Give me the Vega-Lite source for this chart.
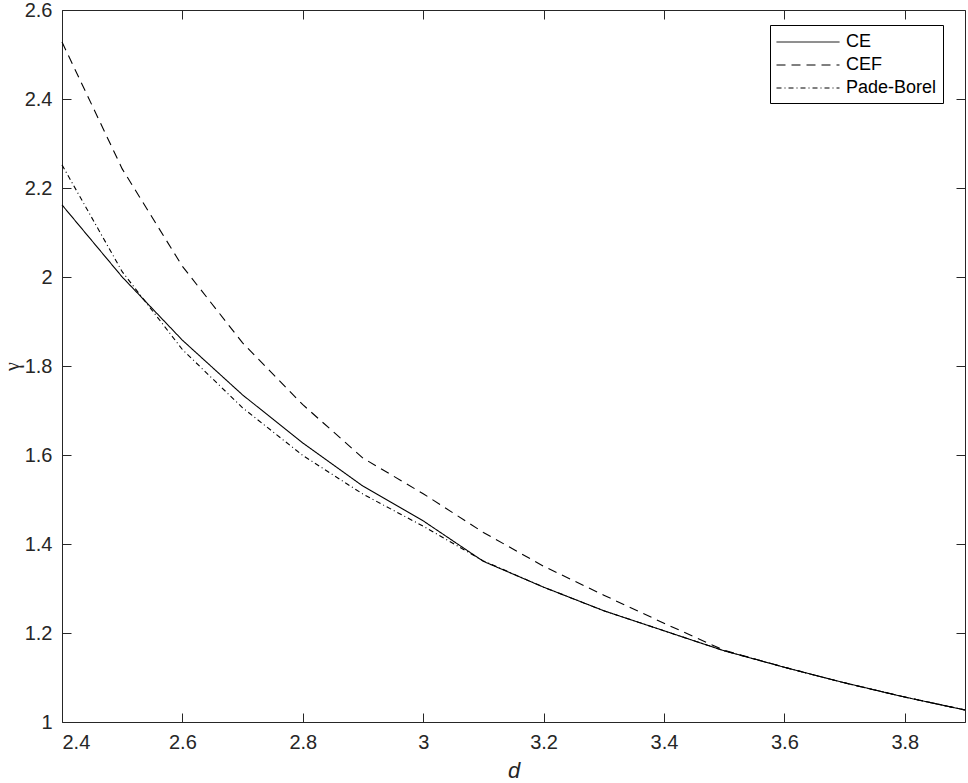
{
  "$schema": "https://vega.github.io/schema/vega-lite/v6.json",
  "autosize": "none",
  "width": 903,
  "height": 712,
  "padding": {"left": 62, "top": 10, "right": 3, "bottom": 61},
  "background": "white",
  "config": {
    "view": {"stroke": "#262626", "strokeWidth": 1},
    "font": "Liberation Sans",
    "axis": {
      "grid": false,
      "domain": false,
      "tickColor": "#262626",
      "tickSize": -9,
      "tickWidth": 1,
      "labelColor": "#262626",
      "labelFont": "Liberation Sans",
      "labelFontSize": 20,
      "titleColor": "#262626",
      "titleFont": "Liberation Sans",
      "titleFontWeight": "normal"
    }
  },
  "data": {
    "values": [
      {"d": 2.4, "gamma": 2.162, "method": "CE"},
      {"d": 2.5, "gamma": 2.0, "method": "CE"},
      {"d": 2.6, "gamma": 1.858, "method": "CE"},
      {"d": 2.7, "gamma": 1.735, "method": "CE"},
      {"d": 2.8, "gamma": 1.627, "method": "CE"},
      {"d": 2.9, "gamma": 1.53, "method": "CE"},
      {"d": 3.0, "gamma": 1.452, "method": "CE"},
      {"d": 3.1, "gamma": 1.361, "method": "CE"},
      {"d": 3.2, "gamma": 1.303, "method": "CE"},
      {"d": 3.3, "gamma": 1.25, "method": "CE"},
      {"d": 3.4, "gamma": 1.205, "method": "CE"},
      {"d": 3.5, "gamma": 1.16, "method": "CE"},
      {"d": 3.6, "gamma": 1.123, "method": "CE"},
      {"d": 3.7, "gamma": 1.088, "method": "CE"},
      {"d": 3.8, "gamma": 1.056, "method": "CE"},
      {"d": 3.9, "gamma": 1.027, "method": "CE"},
      {"d": 2.4, "gamma": 2.528, "method": "CEF"},
      {"d": 2.5, "gamma": 2.243, "method": "CEF"},
      {"d": 2.6, "gamma": 2.024, "method": "CEF"},
      {"d": 2.7, "gamma": 1.852, "method": "CEF"},
      {"d": 2.8, "gamma": 1.713, "method": "CEF"},
      {"d": 2.9, "gamma": 1.593, "method": "CEF"},
      {"d": 3.0, "gamma": 1.513, "method": "CEF"},
      {"d": 3.1, "gamma": 1.426, "method": "CEF"},
      {"d": 3.2, "gamma": 1.35, "method": "CEF"},
      {"d": 3.3, "gamma": 1.285, "method": "CEF"},
      {"d": 3.4, "gamma": 1.222, "method": "CEF"},
      {"d": 3.5, "gamma": 1.161, "method": "CEF"},
      {"d": 3.6, "gamma": 1.123, "method": "CEF"},
      {"d": 3.7, "gamma": 1.088, "method": "CEF"},
      {"d": 3.8, "gamma": 1.056, "method": "CEF"},
      {"d": 3.9, "gamma": 1.027, "method": "CEF"},
      {"d": 2.4, "gamma": 2.252, "method": "Pade-Borel"},
      {"d": 2.5, "gamma": 2.012, "method": "Pade-Borel"},
      {"d": 2.6, "gamma": 1.837, "method": "Pade-Borel"},
      {"d": 2.7, "gamma": 1.706, "method": "Pade-Borel"},
      {"d": 2.8, "gamma": 1.599, "method": "Pade-Borel"},
      {"d": 2.9, "gamma": 1.512, "method": "Pade-Borel"},
      {"d": 3.0, "gamma": 1.44, "method": "Pade-Borel"},
      {"d": 3.1, "gamma": 1.362, "method": "Pade-Borel"},
      {"d": 3.2, "gamma": 1.303, "method": "Pade-Borel"},
      {"d": 3.3, "gamma": 1.25, "method": "Pade-Borel"},
      {"d": 3.4, "gamma": 1.205, "method": "Pade-Borel"},
      {"d": 3.5, "gamma": 1.16, "method": "Pade-Borel"},
      {"d": 3.6, "gamma": 1.123, "method": "Pade-Borel"},
      {"d": 3.7, "gamma": 1.088, "method": "Pade-Borel"},
      {"d": 3.8, "gamma": 1.056, "method": "Pade-Borel"},
      {"d": 3.9, "gamma": 1.027, "method": "Pade-Borel"}
    ]
  },
  "layer": [
    {
      "mark": {"type": "line", "color": "black", "strokeWidth": 1.1},
      "encoding": {
        "x": {
          "field": "d", "type": "quantitative",
          "scale": {"domain": [2.4, 3.9], "nice": false, "zero": false},
          "axis": {
            "orient": "bottom",
            "values": [2.4, 2.6, 2.8, 3.0, 3.2, 3.4, 3.6, 3.8],
            "format": "~g",
            "labelPadding": 19,
            "title": "d",
            "titleFontStyle": "italic",
            "titleFontSize": 22,
            "titlePadding": 8
          }
        },
        "y": {
          "field": "gamma", "type": "quantitative",
          "scale": {"domain": [1, 2.6], "nice": false, "zero": false},
          "axis": {
            "orient": "left",
            "values": [1, 1.2, 1.4, 1.6, 1.8, 2, 2.2, 2.4, 2.6],
            "format": "~g",
            "labelPadding": 19,
            "title": "γ",
            "titleFont": "Liberation Serif",
            "titleFontSize": 20,
            "titlePadding": 2
          }
        },
        "strokeDash": {
          "field": "method", "type": "nominal",
          "scale": {"domain": ["CE", "CEF", "Pade-Borel"], "range": [[1, 0], [9, 6], [5, 3, 1, 3]]},
          "legend": {
            "title": null,
            "orient": "none",
            "legendX": 708,
            "legendY": 15,
            "symbolType": "M-1,0H5",
            "symbolSize": 441,
            "symbolStrokeColor": "black",
            "symbolStrokeWidth": 1,
            "labelOffset": 48,
            "labelFont": "Liberation Sans",
            "labelFontSize": 18,
            "labelColor": "black",
            "rowPadding": 3,
            "padding": 6,
            "strokeColor": "black",
            "fillColor": "white"
          }
        }
      }
    },
    {
      "mark": {"type": "line", "opacity": 0},
      "encoding": {
        "x": {
          "field": "d", "type": "quantitative",
          "axis": {"orient": "top", "values": [2.4, 2.6, 2.8, 3.0, 3.2, 3.4, 3.6, 3.8], "labels": false, "title": null}
        },
        "y": {
          "field": "gamma", "type": "quantitative",
          "axis": {"orient": "right", "values": [1, 1.2, 1.4, 1.6, 1.8, 2, 2.2, 2.4, 2.6], "labels": false, "title": null}
        },
        "detail": {"field": "method"}
      }
    }
  ],
  "resolve": {"axis": {"x": "independent", "y": "independent"}}
}
